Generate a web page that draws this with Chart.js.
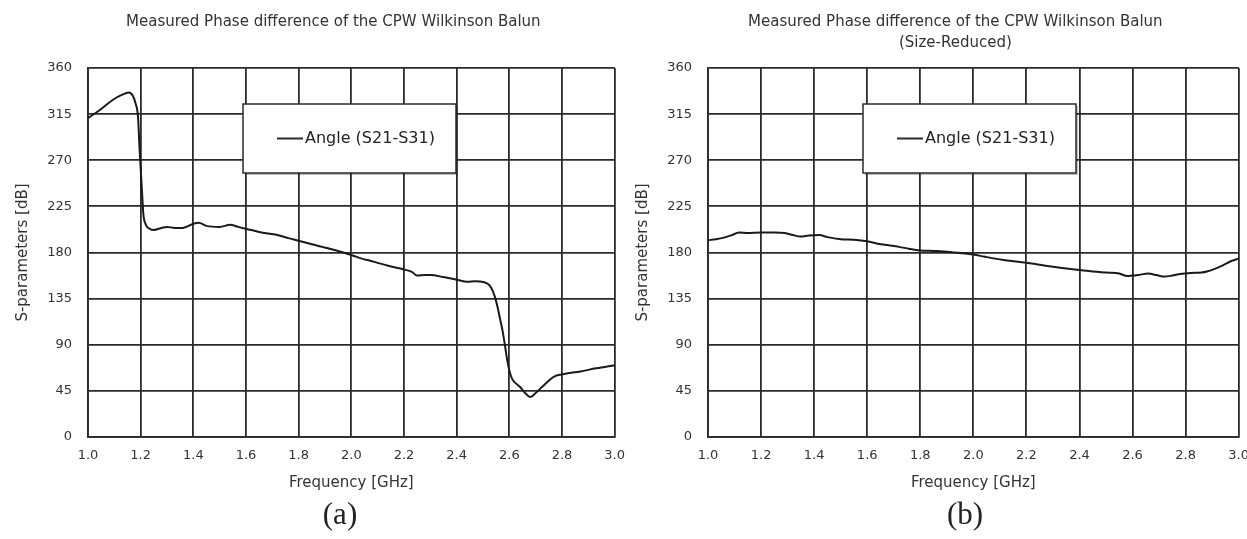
<!DOCTYPE html>
<html lang="en">
<head>
    <meta charset="UTF-8">
    <title>Measured Phase difference of the CPW Wilkinson Balun</title>
    <style>
        body { margin: 0; width: 1247px; height: 539px; overflow: hidden; background: #fff; position: relative; }
        .panel { position: absolute; top: 0; }
        .caption { position: absolute; top: 494px; font-family: "Liberation Serif", "DejaVu Serif", serif; font-size: 31px; line-height: 40px; color: #222; transform: translateX(-50%); }
    </style>
</head>
<body>
    <div class="panel" style="left: 0;"><canvas id="chartA" width="636" height="500"></canvas></div>
    <div class="panel" style="left: 620px;"><canvas id="chartB" width="640" height="500"></canvas></div>
    <div class="caption" style="left: 340px;">(a)</div>
    <div class="caption" style="left: 965px;">(b)</div>

    <script src="https://cdn.jsdelivr.net/npm/chart.js"></script>
    <script>
        // axis ticks
        const freqMin = 1.0, freqMax = 3.0, freqStep = 0.2;
        const phaseMin = 0, phaseMax = 360, phaseStep = 45;

        // (a) measured phase difference, CPW Wilkinson balun
        const freqA = [1.00, 1.045, 1.095, 1.13, 1.155, 1.17, 1.18, 1.19, 1.196, 1.20, 1.205, 1.21, 1.22, 1.235, 1.25, 1.28, 1.30, 1.33, 1.36, 1.40, 1.42, 1.45, 1.50, 1.54, 1.57, 1.62, 1.65, 1.72, 1.76, 1.80, 1.85, 1.89, 1.95, 2.00, 2.04, 2.075, 2.14, 2.20, 2.23, 2.25, 2.28, 2.30, 2.35, 2.40, 2.44, 2.47, 2.505, 2.52, 2.53, 2.545, 2.555, 2.565, 2.574, 2.583, 2.592, 2.60, 2.61, 2.64, 2.66, 2.68, 2.70, 2.725, 2.75, 2.77, 2.80, 2.87, 2.93, 3.00];
        const phaseA = [311, 319, 329, 334, 336, 333, 326, 312, 280, 262, 240, 218, 207, 203, 202, 204, 205, 204, 204, 208, 209, 206, 205, 207, 205, 202, 200, 197, 194, 191.5, 188, 185.5, 181.5, 177.6, 174, 171.7, 167, 163.5, 161, 157.5, 158, 158, 156, 153.5, 151.5, 152, 151, 149, 146, 137, 127, 115, 104, 90, 75, 65, 57, 49, 43, 39, 43, 49, 55, 59, 61, 64, 67, 70];

        // (b) size-reduced balun
        const freqB = [1.00, 1.03, 1.06, 1.09, 1.117, 1.15, 1.20, 1.25, 1.29, 1.32, 1.35, 1.38, 1.42, 1.45, 1.50, 1.55, 1.60, 1.64, 1.68, 1.72, 1.76, 1.80, 1.85, 1.89, 1.95, 2.00, 2.04, 2.07, 2.12, 2.20, 2.25, 2.30, 2.35, 2.40, 2.45, 2.50, 2.55, 2.58, 2.60, 2.62, 2.66, 2.69, 2.72, 2.75, 2.78, 2.82, 2.86, 2.88, 2.91, 2.94, 2.97, 3.00];
        const phaseB = [192, 193, 194.5, 197, 199.5, 199, 199.5, 199.5, 199, 197, 195.5, 196.5, 197, 195, 193, 192.5, 191, 188.5, 187, 185.5, 183.5, 182, 181.5, 181, 179.5, 178, 176, 174.5, 172.5, 170, 168, 166, 164.5, 163, 161.5, 160.5, 159.5, 157, 157.5, 158, 159.5, 158, 156.5, 157.5, 159, 160, 160.5, 161.5, 164, 167.5, 171.5, 174];

        const seriesLabel = 'Angle (S21-S31)';
        const titleA = ['Measured Phase difference of the CPW Wilkinson Balun'];
        const titleB = ['Measured Phase difference of the CPW Wilkinson Balun', '(Size-Reduced)'];

        const inkDark = '#2b2b2b';
        const fontFamily = '"DejaVu Sans", sans-serif';

        // title + in-plot legend box, placed relative to the chart area
        const panelDecor = {
            id: 'panelDecor',
            afterDraw(chart, args, opts) {
                const { ctx, chartArea: a } = chart;
                ctx.save();
                ctx.fillStyle = '#333';
                ctx.font = '15px ' + fontFamily;
                ctx.textAlign = 'center';
                ctx.textBaseline = 'middle';
                const cx = (a.left + a.right) / 2 + opts.titleShift;
                opts.title.forEach((line, i) => ctx.fillText(line, cx, opts.titleY + i * 21));

                const b = opts.box;
                const bx = a.left + b.x, by = a.top + b.y;
                ctx.fillStyle = 'rgba(0,0,0,0.25)';
                ctx.fillRect(bx + 2, by + 2, b.w, b.h);
                ctx.fillStyle = '#fff';
                ctx.fillRect(bx, by, b.w, b.h);
                ctx.strokeStyle = inkDark;
                ctx.lineWidth = 1.5;
                ctx.strokeRect(bx, by, b.w, b.h);

                const ly = by + b.h / 2;
                ctx.beginPath();
                ctx.moveTo(bx + 34, ly);
                ctx.lineTo(bx + 60, ly);
                ctx.lineWidth = 2;
                ctx.stroke();
                ctx.fillStyle = '#222';
                ctx.font = '16px ' + fontFamily;
                ctx.textAlign = 'left';
                ctx.fillText(chart.data.datasets[0].label, bx + 62, ly);
                ctx.restore();
            }
        };

        function makeChart(id, freq, phase, title, padRight) {
            const points = freq.map((f, i) => ({ x: f, y: phase[i] }));
            return new Chart(document.getElementById(id).getContext('2d'), {
                type: 'line',
                data: {
                    datasets: [{
                        label: seriesLabel,
                        data: points,
                        borderColor: '#1a1a1a',
                        borderWidth: 2,
                        pointRadius: 0,
                        cubicInterpolationMode: 'monotone',
                        fill: false
                    }]
                },
                options: {
                    responsive: false,
                    animation: false,
                    devicePixelRatio: 1,
                    layout: { padding: { left: 14, right: padRight, top: 68, bottom: 8 } },
                    plugins: {
                        legend: { display: false },
                        title: { display: false },
                        tooltip: { enabled: false },
                        panelDecor: { title: title, titleY: 22, titleShift: -18, box: { x: 155, y: 36, w: 213, h: 69 } }
                    },
                    scales: {
                        x: {
                            type: 'linear',
                            min: freqMin,
                            max: freqMax,
                            afterFit: s => { s.height = 55; },
                            grid: { color: inkDark, lineWidth: 1.8, drawTicks: false },
                            border: { color: inkDark, width: 1.8 },
                            ticks: {
                                stepSize: freqStep,
                                padding: 11,
                                color: '#333',
                                font: { family: fontFamily, size: 13 },
                                callback: v => v.toFixed(1)
                            },
                            title: { display: true, text: 'Frequency [GHz]', color: '#333', font: { family: fontFamily, size: 15 }, padding: { top: 0, bottom: 0 } }
                        },
                        y: {
                            min: phaseMin,
                            max: phaseMax,
                            afterFit: s => { s.width = 74; },
                            grid: { color: inkDark, lineWidth: 1.8, drawTicks: false },
                            border: { color: inkDark, width: 1.8 },
                            ticks: {
                                stepSize: phaseStep,
                                padding: 16,
                                color: '#333',
                                font: { family: fontFamily, size: 13 }
                            },
                            title: { display: true, text: 'S-parameters [dB]', color: '#333', font: { family: fontFamily, size: 15 }, padding: { top: 0, bottom: 0 } }
                        }
                    }
                },
                plugins: [panelDecor]
            });
        }

        makeChart('chartA', freqA, phaseA, titleA, 20);
        makeChart('chartB', freqB, phaseB, titleB, 20);
    </script>
</body>
</html>
